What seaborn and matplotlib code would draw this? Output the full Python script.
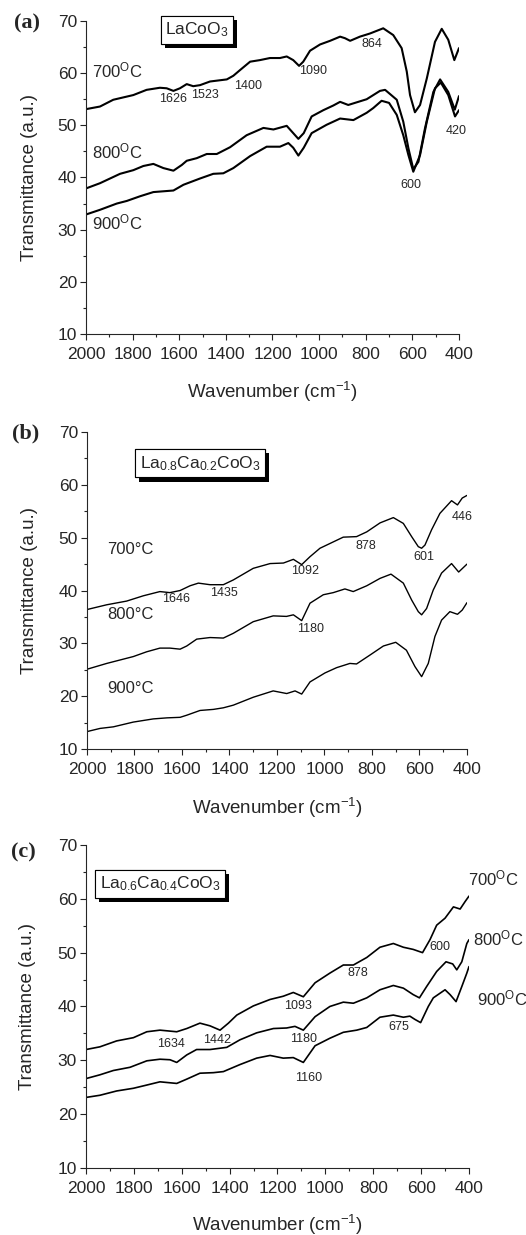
import matplotlib
matplotlib.use('Agg')
import matplotlib.pyplot as plt
import matplotlib.patheffects as pe
from matplotlib.ticker import MultipleLocator
import seaborn as sns

# ---- panel (a) LaCoO3 ----
wn_a700 = [2000, 1940, 1883, 1797, 1740, 1683, 1654, 1625, 1597, 1568, 1540, 1511, 1468, 1396,
           1368, 1339, 1296, 1254, 1211, 1168, 1139, 1111, 1086, 1068, 1039, 996, 953, 910, 889,
           867, 825, 782, 725, 682, 646, 624, 610, 589, 567, 538, 503, 474, 446, 420, 400]
t_a700 = [53.1, 53.6, 54.9, 55.8, 56.8, 57.2, 57.1, 56.6, 57.1, 57.9, 57.5, 57.7, 58.4, 58.8,
          59.5, 60.6, 62.2, 62.5, 62.9, 62.9, 63.2, 62.5, 61.4, 62.2, 64.3, 65.5, 66.2, 67.0, 66.7,
          66.2, 67.0, 67.6, 68.6, 67.3, 64.8, 60.3, 55.8, 52.5, 53.9, 59.0, 66.0, 68.5, 66.4, 62.5, 64.8]
wn_a800 = [2000, 1940, 1854, 1797, 1754, 1711, 1668, 1625, 1589, 1568, 1525, 1482, 1439, 1382,
           1311, 1239, 1196, 1139, 1111, 1089, 1066, 1032, 982, 939, 910, 875, 832, 796, 739,
           717, 667, 639, 617, 596, 574, 546, 510, 481, 446, 418, 400]
t_a800 = [37.9, 38.9, 40.7, 41.4, 42.2, 42.6, 41.8, 41.3, 42.4, 43.2, 43.7, 44.5, 44.5, 45.8,
          48.1, 49.5, 49.2, 49.9, 48.5, 47.4, 48.5, 51.7, 52.9, 53.8, 54.5, 53.9, 54.5, 55.0, 56.6,
          56.8, 54.9, 50.7, 45.6, 41.6, 43.0, 49.4, 56.4, 58.8, 56.4, 53.0, 55.6]
wn_a900 = [2000, 1940, 1868, 1825, 1768, 1711, 1625, 1582, 1511, 1454, 1411, 1368, 1296, 1225,
           1168, 1132, 1111, 1089, 1066, 1032, 968, 910, 853, 796, 768, 732, 700, 667, 639,
           617, 596, 567, 538, 503, 478, 446, 417, 400]
t_a900 = [32.9, 33.8, 35.0, 35.5, 36.4, 37.2, 37.5, 38.6, 39.8, 40.7, 40.8, 41.8, 44.1, 45.9,
          45.9, 46.6, 45.7, 44.2, 45.7, 48.5, 50.1, 51.3, 51.0, 52.4, 53.3, 54.7, 54.3, 52.0, 48.1,
          44.3, 41.1, 44.3, 50.7, 57.1, 58.2, 55.8, 51.7, 52.9]

# ---- panel (b) La0.8Ca0.2CoO3 ----
wn_b700 = [2000, 1917, 1833, 1763, 1693, 1651, 1608, 1566, 1531, 1482, 1426, 1384, 1300, 1229,
           1173, 1131, 1096, 1061, 1019, 963, 921, 865, 822, 766, 710, 668, 633, 605, 591,
           577, 549, 514, 465, 440, 420, 400]
t_b700 = [36.4, 37.3, 38.0, 39.0, 39.8, 39.6, 40.0, 40.9, 41.4, 41.1, 41.1, 42.0, 44.2, 45.1,
          45.2, 45.9, 44.9, 46.4, 48.0, 49.2, 50.1, 50.2, 51.1, 52.8, 53.8, 52.7, 50.2, 48.3, 48.0,
          48.6, 51.5, 54.6, 57.0, 56.2, 57.5, 58.0]
wn_b800 = [2000, 1917, 1805, 1749, 1693, 1651, 1608, 1580, 1538, 1482, 1426, 1384, 1300, 1216,
           1160, 1131, 1096, 1061, 1005, 963, 914, 879, 822, 766, 720, 668, 633, 605, 591,
           570, 542, 507, 465, 435, 400]
t_b800 = [25.1, 26.2, 27.5, 28.4, 29.1, 29.1, 28.9, 29.5, 30.8, 31.1, 31.0, 31.9, 34.1, 35.2,
          35.1, 35.4, 34.3, 37.6, 39.2, 39.6, 40.3, 39.8, 40.9, 42.3, 43.1, 41.4, 38.2, 36.0, 35.4,
          36.6, 40.1, 43.3, 45.1, 43.5, 45.0]
wn_b900 = [2000, 1945, 1889, 1805, 1721, 1663, 1608, 1580, 1524, 1468, 1426, 1384, 1300, 1216,
           1159, 1124, 1096, 1061, 998, 949, 893, 865, 808, 752, 700, 655, 619, 591, 563,
           535, 507, 472, 440, 420, 400]
t_b900 = [13.3, 13.9, 14.2, 15.1, 15.7, 15.9, 16.0, 16.4, 17.3, 17.5, 17.8, 18.3, 19.8, 21.0,
          20.5, 21.0, 20.4, 22.7, 24.4, 25.4, 26.2, 26.1, 27.8, 29.5, 30.2, 28.7, 25.6, 23.7, 26.2,
          31.3, 34.4, 36.0, 35.5, 36.3, 37.7]

# ---- panel (c) La0.6Ca0.4CoO3 ----
wn_c700 = [2000, 1942, 1872, 1802, 1746, 1691, 1621, 1579, 1524, 1482, 1440, 1405, 1370, 1301,
           1231, 1176, 1134, 1092, 1043, 981, 925, 883, 827, 772, 716, 674, 633, 594, 563,
           535, 500, 465, 437, 416, 400]
t_c700 = [32.0, 32.5, 33.6, 34.2, 35.3, 35.6, 35.3, 35.9, 36.9, 36.4, 35.6, 36.9, 38.4, 40.1,
          41.3, 41.9, 42.6, 41.8, 44.4, 46.2, 47.7, 47.7, 49.1, 51.0, 51.7, 51.0, 50.6, 50.0, 52.4,
          55.1, 56.4, 58.5, 58.1, 59.5, 60.5]
wn_c800 = [2000, 1942, 1886, 1816, 1746, 1691, 1649, 1621, 1579, 1538, 1482, 1412, 1357, 1287,
           1217, 1162, 1127, 1092, 1043, 981, 925, 883, 827, 772, 716, 674, 633, 607, 577,
           535, 496, 468, 451, 430, 409, 400]
t_c800 = [26.6, 27.3, 28.1, 28.7, 29.9, 30.2, 30.1, 29.6, 31.0, 32.0, 32.0, 32.4, 33.8, 35.1,
          35.9, 36.0, 36.3, 35.6, 38.1, 40.0, 40.8, 40.6, 41.6, 43.1, 43.9, 43.4, 42.2, 41.6, 43.7,
          46.5, 48.3, 47.9, 46.8, 48.3, 51.7, 52.4]
wn_c900 = [2000, 1942, 1872, 1802, 1746, 1691, 1621, 1579, 1524, 1468, 1426, 1357, 1287, 1231,
           1176, 1134, 1092, 1043, 981, 925, 869, 827, 772, 716, 674, 647, 626, 602, 570,
           549, 500, 479, 454, 430, 409, 400]
t_c900 = [23.1, 23.5, 24.3, 24.8, 25.4, 26.0, 25.7, 26.5, 27.6, 27.7, 27.9, 29.2, 30.4, 30.9,
          30.4, 30.5, 29.6, 32.7, 34.1, 35.2, 35.6, 36.1, 38.0, 38.4, 38.0, 38.2, 37.6, 37.0, 40.0,
          41.6, 43.1, 42.2, 40.9, 43.7, 46.2, 47.4]

# sample names and peak labels
samples = [r'LaCoO$_{\mathrm{3}}$',
           r'La$_{\mathrm{0.8}}$Ca$_{\mathrm{0.2}}$CoO$_{\mathrm{3}}$',
           r'La$_{\mathrm{0.6}}$Ca$_{\mathrm{0.4}}$CoO$_{\mathrm{3}}$']
panel_tags = ['(a)', '(b)', '(c)']
temps_sup = [r'700$^{\mathrm{O}}$C', r'800$^{\mathrm{O}}$C', r'900$^{\mathrm{O}}$C']
temps_deg = ['700°C', '800°C', '900°C']
peaks_a = ['1626', '1523', '1400', '1090', '864', '600', '420']
peaks_b = ['1646', '1435', '1092', '1180', '878', '601', '446']
peaks_c = ['1634', '1442', '1093', '1180', '1160', '878', '675', '600']

# ---- style ----
sns.set_style('ticks')
plt.rcParams['font.family'] = ['Liberation Sans', 'DejaVu Sans']
plt.rcParams['mathtext.fontset'] = 'custom'
plt.rcParams['mathtext.rm'] = 'Liberation Sans'
plt.rcParams['mathtext.it'] = 'Liberation Sans:italic'
plt.rcParams['mathtext.bf'] = 'Liberation Sans:bold'

fig = plt.figure(figsize=(5.26, 12.35), dpi=100)
ax_a = fig.add_axes([0.1635, 0.7296, 0.7091, 0.2534])
ax_b = fig.add_axes([0.1654, 0.3935, 0.7224, 0.2567])
ax_c = fig.add_axes([0.1635, 0.0543, 0.7281, 0.2615])


def setup(ax, xlab_y):
    ax.set_xlim(2000, 400)
    ax.set_ylim(10, 70)
    ax.xaxis.set_major_locator(MultipleLocator(200))
    ax.xaxis.set_minor_locator(MultipleLocator(100))
    ax.yaxis.set_major_locator(MultipleLocator(10))
    ax.yaxis.set_minor_locator(MultipleLocator(5))
    ax.tick_params(which='major', direction='out', length=4.5, width=0.8, labelsize=12.5, color='#222222')
    ax.tick_params(which='minor', direction='out', length=2.3, width=0.8, color='#222222')
    ax.tick_params(axis='x', which='major', pad=5)
    ax.tick_params(axis='y', which='major', pad=2)
    sns.despine(ax=ax)
    for s in ['left', 'bottom']:
        ax.spines[s].set_linewidth(0.8)
    ax.set_xlabel(r'Wavenumber (cm$^{\mathrm{-1}}$)', fontsize=13.5)
    ax.set_ylabel('Transmittance (a.u.)', fontsize=13.5)
    ax.xaxis.set_label_coords(0.5, xlab_y)
    ax.yaxis.set_label_coords(-0.13, 0.5)


def sample_box(ax, x, y, s, pad):
    t = ax.text(x, y, s, ha='center', va='center', fontsize=12.5, zorder=5, clip_on=False,
                bbox=dict(boxstyle='square,pad=%s' % pad, fc='white', ec='black', lw=0.8))
    t.get_bbox_patch().set_path_effects([
        pe.withSimplePatchShadow(offset=(3, -3), shadow_rgbFace='black', alpha=1.0), pe.Normal()])


# panel (a)
for wn, t in [(wn_a700, t_a700), (wn_a800, t_a800), (wn_a900, t_a900)]:
    sns.lineplot(x=wn, y=t, ax=ax_a, color='black', lw=1.5, estimator=None)
setup(ax_a, -0.146)
for s, y in zip(temps_sup, [60.6, 44.9, 31.3]):
    ax_a.text(1975, y, s, ha='left', va='center', fontsize=12)
for s, x, y in zip(peaks_a, [1625, 1489, 1306, 1025, 774, 607, 413], [55.0, 55.8, 57.6, 60.4, 65.5, 38.5, 49.0]):
    ax_a.text(x, y, s, ha='center', va='center', fontsize=9)
sample_box(ax_a, 1524, 68.3, samples[0], 0.25)

# panel (b)
for wn, t in [(wn_b700, t_b700), (wn_b800, t_b800), (wn_b900, t_b900)]:
    sns.lineplot(x=wn, y=t, ax=ax_b, color='black', lw=1.0, estimator=None)
setup(ax_b, -0.148)
for s, y in zip(temps_deg, [47.8, 35.5, 21.5]):
    ax_b.text(1916, y, s, ha='left', va='center', fontsize=12)
for s, x, y in zip(peaks_b, [1625, 1422, 1082, 1058, 825, 581, 422], [38.3, 39.6, 43.6, 32.8, 48.5, 46.4, 54.0]):
    ax_b.text(x, y, s, ha='center', va='center', fontsize=9)
sample_box(ax_b, 1524, 64.1, samples[1], 0.28)

# panel (c)
for wn, t in [(wn_c700, t_c700), (wn_c800, t_c800), (wn_c900, t_c900)]:
    sns.lineplot(x=wn, y=t, ax=ax_c, color='black', lw=1.2, estimator=None)
setup(ax_c, -0.138)
for s, x, y in zip(temps_sup, [404, 383, 366], [63.8, 52.7, 41.5]):
    ax_c.text(x, y, s, ha='left', va='center', fontsize=12, clip_on=False)
for s, x, y in zip(peaks_c, [1646, 1454, 1116, 1092, 1071, 865, 692, 521],
                   [33.0, 33.8, 40.0, 33.9, 26.8, 46.2, 36.1, 51.1]):
    ax_c.text(x, y, s, ha='center', va='center', fontsize=9)
sample_box(ax_c, 1691, 62.8, samples[2], 0.28)

for tag, x, y in zip(panel_tags, [0.051, 0.048, 0.045], [0.981, 0.649, 0.310]):
    fig.text(x, y, tag, ha='center', va='center', fontsize=16, fontweight='bold',
             family=['Liberation Serif', 'DejaVu Serif'])

fig.savefig('out.png', dpi=100)
